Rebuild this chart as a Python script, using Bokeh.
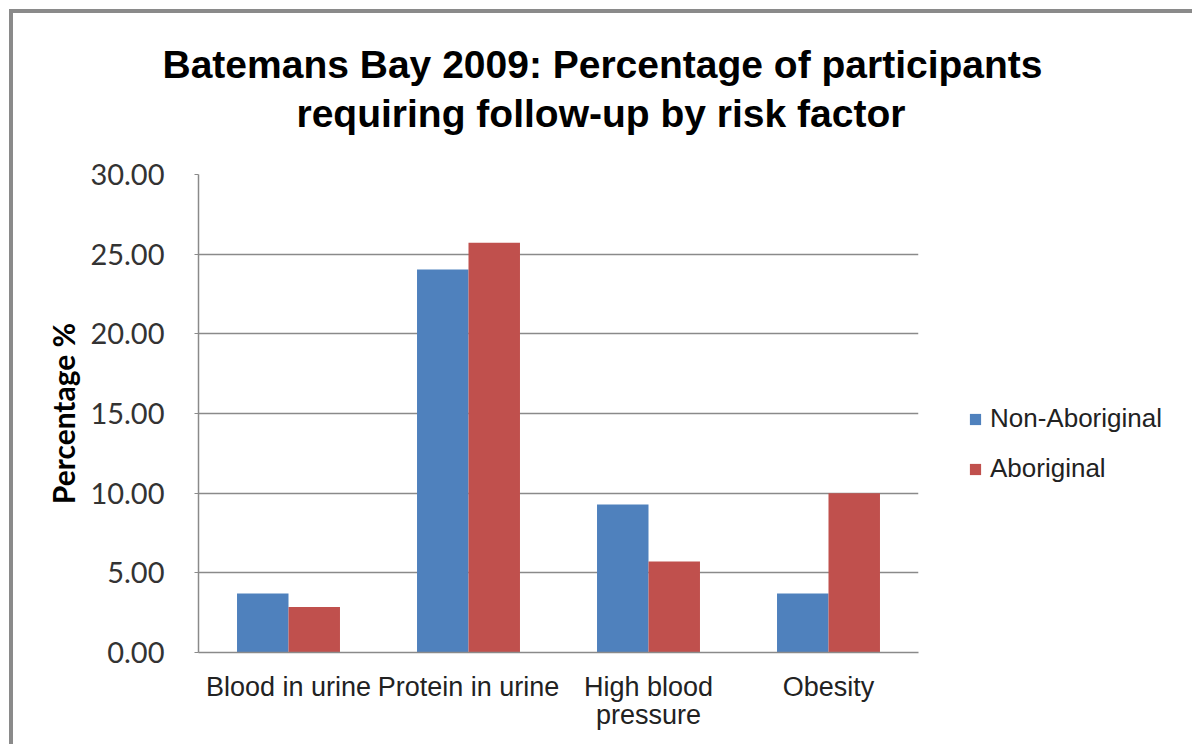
from bokeh.plotting import figure
from bokeh.models import (ColumnDataSource, FactorRange, Range1d, FixedTicker,
                          NumeralTickFormatter, Legend, LegendItem, Title)
from bokeh.transform import dodge
from bokeh.embed import file_html
from bokeh.resources import INLINE

# ---- data ----
categories = ["Blood in urine", "Protein in urine", "High blood\npressure", "Obesity"]
non_aboriginal = [3.70, 24.03, 9.29, 3.70]
aboriginal = [2.86, 25.71, 5.71, 10.00]
series_names = ["Non-Aboriginal", "Aboriginal"]
y_ticks = [0, 5, 10, 15, 20, 25, 30]
title_lines = ["Batemans Bay 2009: Percentage of participants",
               "requiring follow-up by risk factor"]

source = ColumnDataSource(dict(cat=categories, non=non_aboriginal, abo=aboriginal))

p = figure(frame_width=720, frame_height=478, output_backend="svg", toolbar_location=None,
           x_range=FactorRange(*categories, range_padding=0),
           y_range=Range1d(0, 30),
           min_border_left=185, min_border_top=161, min_border_right=272,
           min_border_bottom=92)

p.styles = {"margin-left": "9px", "margin-top": "9px",
            "border-left": "4px solid #8a8a8a", "border-top": "4px solid #8a8a8a",
            "border-right": "1px solid #d4d4d4"}

# title: spacer next to the frame, then two single-line titles (later-added sits farther out)
spacer = Title(text=" ", text_font_size="1px", standoff=37)
t2 = Title(text=title_lines[1], align="left", text_font="Liberation Sans",
           text_font_style="bold", text_font_size="39px", text_color="#000000",
           offset=98, standoff=0)
t1 = Title(text=title_lines[0], align="left", text_font="Liberation Sans",
           text_font_style="bold", text_font_size="39px", text_color="#000000",
           offset=-36, standoff=7)
p.add_layout(spacer, "above")
p.add_layout(t2, "above")
p.add_layout(t1, "above")

r1 = p.vbar(x=dodge("cat", -0.143, range=p.x_range), top="non", width=0.286,
            source=source, fill_color="#4F81BD", line_color=None)
r2 = p.vbar(x=dodge("cat", 0.143, range=p.x_range), top="abo", width=0.286,
            source=source, fill_color="#C0504D", line_color=None)

p.background_fill_color = "white"
p.border_fill_color = "white"
p.outline_line_color = None
p.xgrid.grid_line_color = None
p.ygrid.grid_line_color = "#8a8a8a"
p.ygrid.grid_line_width = 1.5
p.ygrid.ticker = FixedTicker(ticks=y_ticks)

p.yaxis.ticker = FixedTicker(ticks=y_ticks)
p.yaxis.formatter = NumeralTickFormatter(format="0.00")
p.yaxis.major_label_text_font = "Lato"
p.yaxis.major_label_text_font_size = "29px"
p.yaxis.major_label_text_color = "#333333"
p.yaxis.major_label_standoff = 30
p.yaxis.axis_line_color = "#8a8a8a"
p.yaxis.axis_line_width = 1.5
p.yaxis.major_tick_line_color = "#8a8a8a"
p.yaxis.major_tick_out = 4
p.yaxis.major_tick_in = 0
p.yaxis.minor_tick_line_color = None
p.yaxis.axis_label = "Percentage %"
p.yaxis.axis_label_text_font = "Lato"
p.yaxis.axis_label_text_font_style = "bold"
p.yaxis.axis_label_text_font_size = "30px"
p.yaxis.axis_label_text_color = "#000000"
p.yaxis.axis_label_standoff = 6

p.xaxis.axis_line_color = "#8a8a8a"
p.xaxis.axis_line_width = 1.5
p.xaxis.major_tick_line_color = None
p.xaxis.minor_tick_line_color = None
p.xaxis.major_label_text_font = "Liberation Sans"
p.xaxis.major_label_text_font_size = "27px"
p.xaxis.major_label_text_line_height = 0.95
p.xaxis.major_label_text_color = "#222222"
p.xaxis.major_label_standoff = 13

legend = Legend(items=[LegendItem(label=series_names[0], renderers=[r1]),
                       LegendItem(label=series_names[1], renderers=[r2])],
                location=(50, 168), orientation="vertical",
                glyph_width=14, glyph_height=14, label_standoff=8, spacing=19,
                label_text_font="Liberation Sans", label_text_font_size="26px",
                label_text_color="#222222", border_line_color=None,
                background_fill_alpha=0, padding=10)
p.add_layout(legend, "right")

open("out.html", "w").write(file_html(p, INLINE))
